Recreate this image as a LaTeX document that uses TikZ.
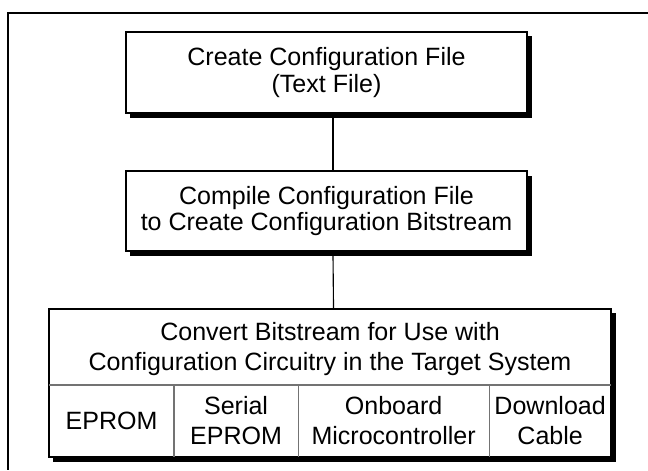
\documentclass[tikz,border=0pt]{standalone}
\usepackage{fontspec}
\setmainfont{Liberation Sans}
\usetikzlibrary{positioning,shadows}

\begin{document}
\begin{tikzpicture}[x=0.025cm, y=-0.025cm,
    box/.style={draw, line width=1.1pt, fill=white, inner sep=0pt,
        drop shadow={shadow xshift=3.2pt, shadow yshift=-3.2pt, opacity=1, fill=black}},
    txt/.style={align=center, font=\fontsize{17.8pt}{18.9pt}\selectfont},
    cell/.style={align=center, font=\fontsize{17.8pt}{21.3pt}\selectfont,
        minimum height=1.8cm, inner sep=0pt, outer sep=0pt},
    divider/.style={black!55, line width=0.8pt},
    link/.style={line width=0.8pt}]
    \useasboundingbox (0,0) rectangle (648,470);
    \draw[line width=1.1pt] (648,13) -- (8,13) -- (8,470);

    \node[box, txt, minimum width=10.025cm, minimum height=2.025cm] (create) at (326.5,72.5)
        {Create Configuration File\\(Text File)};
    \node[box, txt, minimum width=10.025cm, minimum height=2cm] (compile) at (326.5,211)
        {Compile Configuration File\\to Create Configuration Bitstream};

\begin{scope}
    \node[box, minimum width=14.05cm, minimum height=3.7cm] (target) at (330,383) {};
    \node[cell] (convert) at (330,349)
        {Convert Bitstream for Use with\\Configuration Circuitry in the Target System};
    \node[cell, anchor=north west, minimum width=3.125cm] (eprom) at (49,385) {EPROM};
    \node[cell, right=0pt of eprom, minimum width=3.1cm] (serial) {Serial\\EPROM};
    \node[cell, right=0pt of serial, minimum width=4.775cm] (micro) {Onboard\\Microcontroller};
    \node[cell, right=0pt of micro, minimum width=3.05cm] (cable) {Download\\Cable};
    \draw[divider] (eprom.north west) -- (cable.north east);
    \foreach \c in {eprom,serial,micro}
        \draw[divider] (\c.north east) -- (\c.south east);
    \end{scope}

    \draw[link] ([xshift=4.6pt]create.south) -- ([xshift=4.6pt]compile.north);
    \draw[link] ([xshift=4.6pt]compile.south) -- ([xshift=2.5pt]target.north);

\end{tikzpicture}
\end{document}
